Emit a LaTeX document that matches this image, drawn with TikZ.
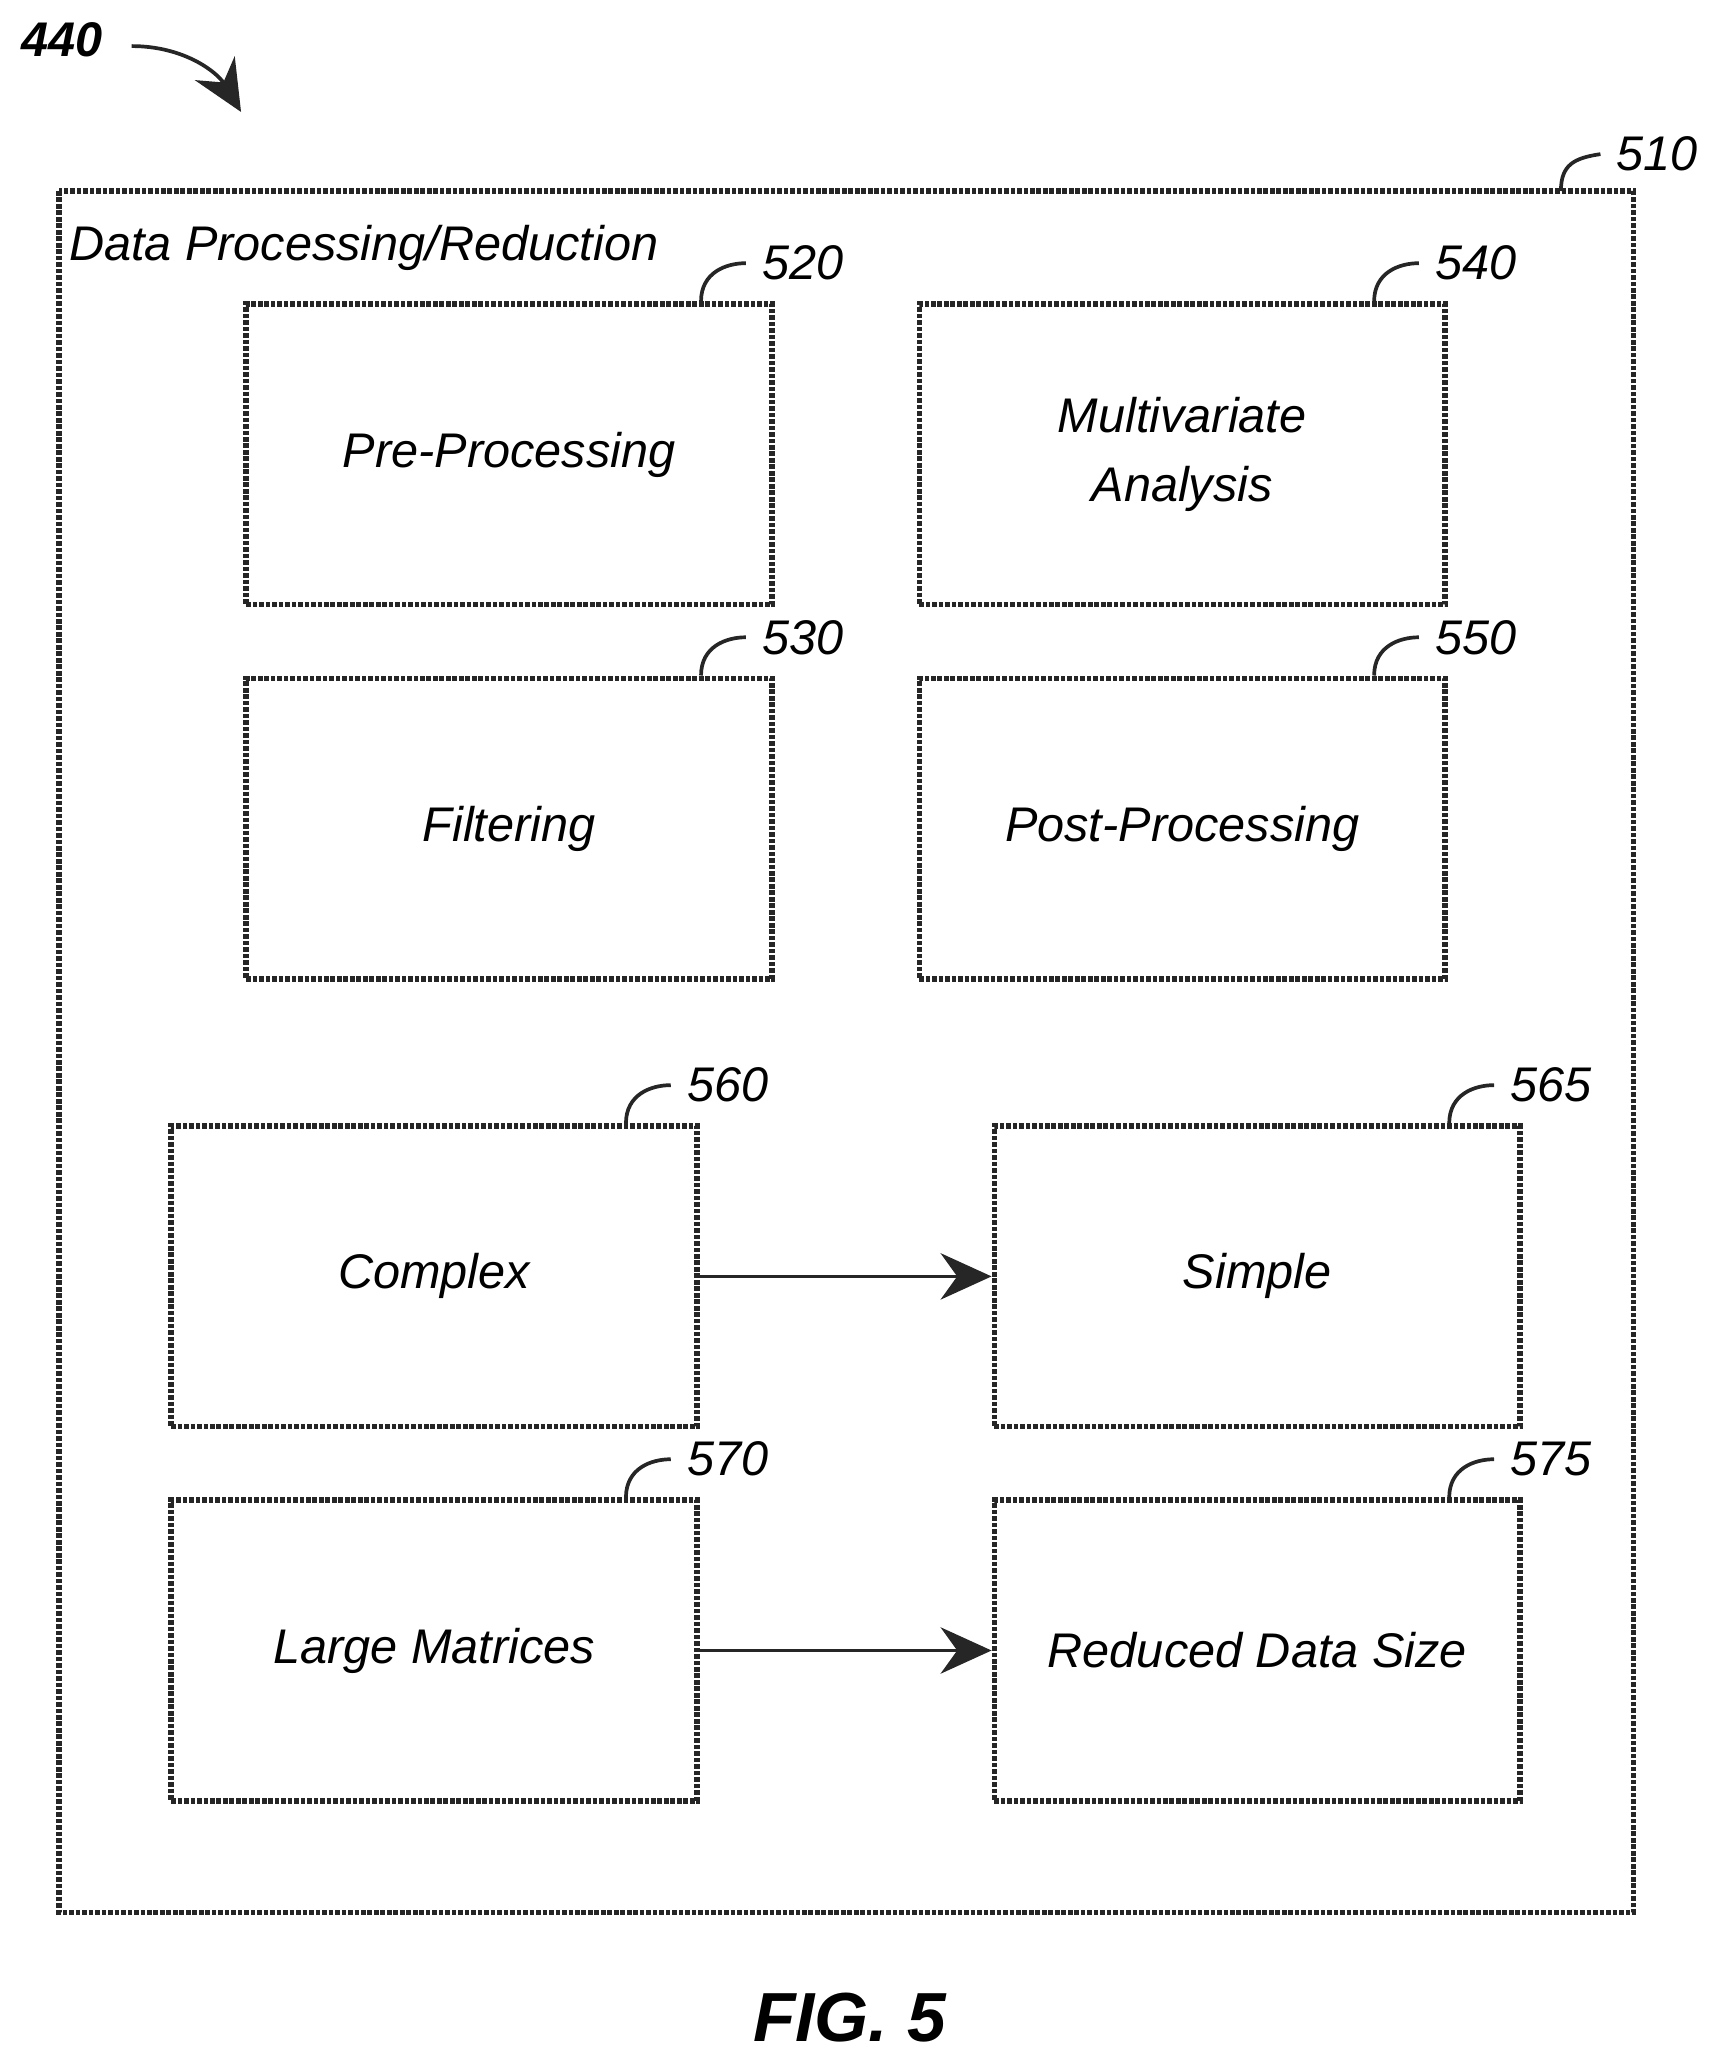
\documentclass[tikz,border=0pt]{standalone}
\usepackage{fontspec}
\setmainfont{Liberation Sans}
\usetikzlibrary{arrows.meta}

\begin{document}
\begin{tikzpicture}[x=0.01cm,y=-0.01cm,
  box/.style={draw=black!85,line width=1.2pt,dash pattern=on 1pt off 0.4pt,minimum width=3.99cm,minimum height=2.28cm,
    align=center,font=\itshape\fontsize{10.5}{15}\selectfont},
  ref/.style={font=\itshape\fontsize{10.5}{13}\selectfont},
  lead/.style={line width=0.8pt,black!85},
  tip/.style={-{Stealth[length=11pt,width=10pt]}}]
\useasboundingbox (0,0) rectangle (1300,1573);
% Reference arrow
\node[ref,font=\bfseries\itshape\fontsize{10.5}{13}\selectfont] (n440) at (47,30) {440};
\draw[lead,tip] (100,35) .. controls (140,35) and (165,55) .. (183,85);

% Outer frame
\draw[draw=black!85,line width=1.2pt,dash pattern=on 1pt off 0.4pt] (45,145) rectangle (1240,1452);
\coordinate (c510) at (1185,145);
\node[ref,anchor=west] (n510) at (1215,117) {510};
\draw[lead] (c510) .. controls (1185,125) and (1195,120) .. (n510.west);
\node[anchor=west,font=\itshape\fontsize{10.5}{13}\selectfont] (title) at (40,188) {Data Processing/Reduction};

% Blocks
\node[box] (pre) at (386.5,345) {Pre-Processing};
\node[box] (mva) at (897.5,345) {Multivariate\\Analysis};
\node[box] (flt) at (386.5,629) {Filtering};
\node[box] (post) at (897.5,629) {Post-Processing};
\node[box] (cpx) at (329.5,969) {Complex};
\node[box] (smp) at (954.5,969) {Simple};
\node[box] (lrg) at (329.5,1253) {Large Matrices};
\node[box] (red) at (954.5,1253) {Reduced Data Size};

% Reference labels
\foreach \b/\n in {pre/520,mva/540,flt/530,post/550,cpx/560,smp/565,lrg/570,red/575}
{
  \node[ref,anchor=west] (l\n) at ([xshift=-0.22cm,yshift=0.29cm]\b.north east) {\n};
  \draw[lead] ([xshift=-0.56cm]\b.north east) .. controls +(0,-22) and +(-15,0) .. (l\n.west);
}

% Connectors
\draw[lead,tip] (cpx) -- (smp);
\draw[lead,tip] (lrg) -- (red);

\node[font=\bfseries\itshape\fontsize{15}{18}\selectfont] (fig) at (645,1532) {FIG. 5};
\end{tikzpicture}
\end{document}
